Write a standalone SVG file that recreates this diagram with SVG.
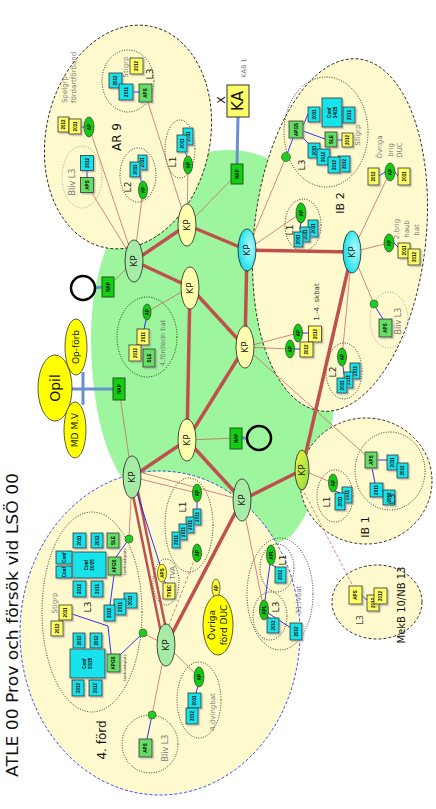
<svg xmlns="http://www.w3.org/2000/svg" width="436" height="809" viewBox="0 0 436 809">
<defs>
<style>
text{font-family:"DejaVu Sans","Liberation Sans",sans-serif}
.c{text-anchor:middle;dominant-baseline:central}
.s{text-anchor:start;dominant-baseline:central}
.bg{fill:#fffacd;stroke:#000;stroke-width:0.8;stroke-dasharray:3 2}
.bgb{fill:#fffacd;stroke:#2233ff;stroke-width:0.9;stroke-dasharray:3 2}
.dt{fill:none;stroke:#000;stroke-width:0.8;stroke-dasharray:1 1.5}
.dg{fill:none;stroke:#888;stroke-width:0.8;stroke-dasharray:1 1.5}
.b{stroke:#333;stroke-width:0.8;filter:url(#sh)}
.cy{fill:#19e3ec}
.gb{fill:#66dd66}
.yb{fill:#ffff66}
.bt{font-family:"Liberation Sans",sans-serif;font-size:4.5px;font-weight:bold;text-anchor:middle;dominant-baseline:central}
.ap{fill:#10cc10;stroke:#333;stroke-width:0.7}
.yap{fill:#ffff33;stroke:#333;stroke-width:0.7}
.kp{stroke:#222;stroke-width:0.8}
.kt{font-size:9px;fill:#111}
.th{stroke:#c0504d;stroke-width:3.5;fill:none}
.th2{stroke:#c0504d;stroke-width:2.5;fill:none}
.tn{stroke:#c86a6a;stroke-width:0.8;fill:none}
.td{stroke:#d06060;stroke-width:0.8;stroke-dasharray:3 2;fill:none}
.bl{stroke:#1a1aff;stroke-width:0.9;fill:none}
.lbb{stroke:#6a8fd0;stroke-width:3;fill:none}
.g7{font-size:7px;fill:#777}
.g8{font-size:8px;fill:#777}
.lb{font-size:9px;fill:#222}
.big{font-size:11px;fill:#111}
.nap{fill:#10d010;stroke:#225522;stroke-width:1}
.yel{fill:#ffff00;stroke:#333;stroke-width:0.8}
.ring{fill:none;stroke:#000;stroke-width:2.5}
.gc{fill:#22cc22;stroke:#336633;stroke-width:0.7}
</style>
<filter id="sh" x="-30%" y="-30%" width="170%" height="170%"><feDropShadow dx="1.5" dy="1.5" stdDeviation="0.4" flood-color="#999" flood-opacity="0.6"/></filter>
<radialGradient id="gcy" cx="0.65" cy="0.45" r="0.7"><stop offset="0" stop-color="#b8fbff"/><stop offset="1" stop-color="#00dce8"/></radialGradient>
<linearGradient id="gyg" x1="0" y1="0" x2="1" y2="1"><stop offset="0" stop-color="#f4f440"/><stop offset="1" stop-color="#88dd44"/></linearGradient>
</defs>

<g id="background">
<path id="green-area" d="M230,150 C300,150 345,230 340,330 C338,420 322,500 292,535 C262,560 200,535 150,505 C110,482 92,420 91,340 C90,230 150,150 230,150 Z" fill="#9df59d"/>
<ellipse class="bg" cx="128" cy="137" rx="82" ry="113" transform="rotate(12 128 137)"/>
<ellipse class="bg" cx="340" cy="235" rx="86" ry="177" transform="rotate(6 340 235)"/>
<ellipse class="bg" cx="366" cy="481" rx="66" ry="63"/>
<ellipse class="bg" cx="377" cy="602" rx="45" ry="37"/>
<ellipse class="bgb" cx="160" cy="633" rx="140" ry="162"/>
</g>

<g id="subgroups">
<ellipse class="dt" cx="128" cy="81" rx="26" ry="31"/>
<ellipse class="dg" cx="82" cy="177" rx="20" ry="31"/>
<ellipse class="dt" cx="138" cy="175" rx="18" ry="27"/>
<ellipse class="dt" cx="180" cy="149" rx="15" ry="29"/>
<ellipse class="dt" cx="326" cy="132" rx="42" ry="55"/>
<ellipse class="dt" cx="303" cy="225" rx="18" ry="26"/>
<ellipse class="dg" cx="389" cy="320" rx="19" ry="28"/>
<ellipse class="dt" cx="344" cy="371" rx="18" ry="28"/>
<ellipse class="dt" cx="147" cy="337" rx="30" ry="40"/>
<ellipse class="dt" cx="335" cy="496" rx="18" ry="26"/>
<ellipse class="dt" cx="390" cy="471" rx="35" ry="39"/>
<ellipse class="dt" cx="189" cy="525" rx="24" ry="47"/>
<ellipse class="dt" cx="166" cy="582" rx="13" ry="23"/>
<ellipse class="dt" cx="92" cy="612" rx="50" ry="100"/>
<ellipse class="dt" cx="150" cy="744" rx="28" ry="29"/>
<ellipse class="dt" cx="199" cy="700" rx="22" ry="38"/>
<ellipse class="dt" cx="280" cy="594" rx="33" ry="56"/>
<ellipse class="dt" cx="277" cy="568" rx="17" ry="24"/>
<ellipse class="dt" cx="270" cy="616" rx="17" ry="24"/>
</g>

<g id="connectors">
<line class="th" x1="134" y1="261" x2="187" y2="225"/>
<line class="th" x1="134" y1="261" x2="190" y2="287"/>
<line class="th" x1="187" y1="225" x2="247" y2="250"/>
<line class="th" x1="247" y1="250" x2="352" y2="252"/>
<line class="th" x1="247" y1="250" x2="245" y2="347"/>
<line class="th" x1="190" y1="287" x2="245" y2="347"/>
<line class="th" x1="190" y1="287" x2="187" y2="440"/>
<line class="th" x1="245" y1="347" x2="187" y2="440"/>
<line class="th" x1="352" y1="252" x2="302" y2="470"/>
<line class="th" x1="187" y1="440" x2="132" y2="477"/>
<line class="th" x1="187" y1="440" x2="242" y2="500"/>
<line class="th" x1="242" y1="500" x2="302" y2="470"/>
<line class="th" x1="242" y1="500" x2="166" y2="645"/>
<line class="th2" x1="129.5" y1="478" x2="163.5" y2="645"/>
<line class="th2" x1="135" y1="477" x2="169" y2="644"/>

<line class="tn" x1="134" y1="261" x2="108" y2="287"/>
<line class="tn" x1="134" y1="261" x2="89" y2="127"/>
<line class="tn" x1="134" y1="261" x2="87" y2="185"/>
<line class="tn" x1="134" y1="261" x2="143" y2="190"/>
<line class="tn" x1="187" y1="225" x2="145" y2="93"/>
<line class="tn" x1="187" y1="225" x2="188" y2="165"/>
<line class="tn" x1="187" y1="225" x2="237" y2="174"/>
<line class="tn" x1="247" y1="250" x2="286" y2="157"/>
<line class="tn" x1="247" y1="250" x2="301" y2="213"/>
<line class="tn" x1="352" y1="252" x2="390" y2="172"/>
<line class="tn" x1="352" y1="252" x2="389" y2="243"/>
<line class="tn" x1="352" y1="252" x2="374" y2="304"/>
<line class="tn" x1="352" y1="252" x2="342" y2="357"/>
<line class="tn" x1="245" y1="347" x2="298" y2="333"/>
<line class="tn" x1="245" y1="347" x2="290" y2="349"/>
<line class="tn" x1="245" y1="347" x2="371" y2="460"/>
<line class="tn" x1="190" y1="287" x2="147" y2="312"/>
<line class="tn" x1="187" y1="440" x2="236" y2="438"/>
<line class="tn" x1="119" y1="389" x2="132" y2="477"/>
<line class="tn" x1="302" y1="470" x2="333" y2="483"/>
<line class="td" x1="302" y1="488" x2="355" y2="590"/>
<line class="tn" x1="132" y1="477" x2="197" y2="493"/>
<line class="tn" x1="132" y1="470" x2="242" y2="500"/>
<line class="tn" x1="132" y1="477" x2="129" y2="539"/>
<line class="tn" x1="242" y1="500" x2="264" y2="610"/>
<line class="tn" x1="166" y1="645" x2="143" y2="633"/>
<line class="tn" x1="166" y1="645" x2="199" y2="677"/>
<line class="tn" x1="166" y1="645" x2="152" y2="715"/>
<line class="td" x1="197" y1="553" x2="167" y2="630"/>

<line class="lbb" x1="238" y1="117" x2="237" y2="164"/>
<path class="lbb" d="M72,389 H113 M83,372 V405" stroke-width="2.5"/>
<line class="lbb" x1="242" y1="438" x2="248" y2="438" stroke-width="2.5"/>
<line class="lbb" x1="102" y1="287" x2="95" y2="288" stroke-width="2.5"/>

<g class="bl">
<path d="M81,127 H85 M87,170 V178 M133,92 H139 M140,172 L141,181 M185,152 L187,156"/>
<path d="M286,157 L293,138 M303,126 L308,114 M303,131 L325,139 M301,136 L310,145 M337,140 H342"/>
<path d="M379,176 L385,172 M395,172 L398,176 M301,222 L300,229 M394,243 L398,247 M376,308 L383,319"/>
<path d="M302,333 H308 M294,349 H300 M343,366 L344,374 M146,320 L144,329"/>
<path d="M335,491 L340,493 M377,460 H387 M372,468 L375,483 M362,596 L367,600"/>
<path d="M197,502 V509 M132,477 L160,565 M164,581 L166,583 M129,539 L116,557 M114,575 L110,605 M72,614 L108,626 L111,654 M143,633 L119,656"/>
<path d="M198,686 L196,693 M152,715 L147,739 M272,565 L276,567 M270,564 L265,600 M266,612 L269,619 M268,613 L291,628 M216,597 L217,596"/>
</g>
</g>

<g id="ar9">
<g id="ar9-spelgrp">
<rect class="b yb" x="58" y="117" width="11" height="15"/><text class="bt" transform="translate(63.5 124.5) rotate(-90)">2012</text>
<rect class="b yb" x="69" y="119" width="12" height="15"/><text class="bt" transform="translate(75 126.5) rotate(-90)">2011</text>
<ellipse class="ap" cx="89" cy="127" rx="5" ry="10"/><text class="bt" transform="translate(89 127) rotate(-90)">AP</text>
</g>
<g id="ar9-bliv">
<rect class="b cy" x="80.5" y="155.5" width="13" height="15"/><text class="bt" transform="translate(87 163) rotate(-90)">2012</text>
<rect class="b gb" x="80.5" y="177.5" width="13" height="15"/><text class="bt" transform="translate(87 185) rotate(-90)">APS</text>
</g>
<g id="ar9-l3">
<rect class="b cy" x="109" y="73" width="13" height="15"/><text class="bt" transform="translate(115.5 80.5) rotate(-90)">2012</text>
<rect class="b cy" x="119" y="84" width="14" height="16"/><text class="bt" transform="translate(126 92) rotate(-90)">2011</text>
<rect class="b gb" x="139" y="84" width="13" height="18"/><text class="bt" transform="translate(145.5 93) rotate(-90)">APS</text>
<rect class="b yb" x="130" y="58" width="13" height="16"/><text class="bt" transform="translate(136.5 66) rotate(-90)">2012</text>
</g>
<g id="ar9-l2">
<rect class="b cy" x="138" y="155" width="9" height="15"/><text class="bt" transform="translate(142.5 162.5) rotate(-90)">2011</text>
<rect class="b cy" x="130" y="162" width="10" height="15"/><text class="bt" transform="translate(135 169.5) rotate(-90)">2011</text>
<ellipse class="ap" cx="143" cy="190" rx="4.5" ry="9"/><text class="bt" transform="translate(143 190) rotate(-90)">AP</text>
</g>
<g id="ar9-l1">
<rect class="b cy" x="183" y="128" width="10" height="17"/><text class="bt" transform="translate(188 136.5) rotate(-90)">2011</text>
<rect class="b cy" x="177" y="135" width="10" height="17"/><text class="bt" transform="translate(182 143.5) rotate(-90)">2011</text>
<ellipse class="ap" cx="188" cy="165" rx="4.5" ry="9"/><text class="bt" transform="translate(188 165) rotate(-90)">AP</text>
</g>
<text class="s g7" transform="translate(65 103) rotate(-90)">Spelgrp</text>
<text class="s g7" transform="translate(74 103) rotate(-90)">fördartförband</text>
<text class="c g8" transform="translate(72 182) rotate(-90)">Bliv L3</text>
<text class="c g7" transform="translate(126 67) rotate(-90)">Stigrp</text>
<text class="c lb" transform="translate(150 74) rotate(-90)">L3</text>
<text class="c lb" transform="translate(128 187) rotate(-90)">L2</text>
<text class="c lb" transform="translate(173 162) rotate(-90)">L1</text>
<text class="c" font-size="12" fill="#111" transform="translate(117 137) rotate(-90)">AR 9</text>
</g>

<g id="ka">
<rect x="227" y="85" width="22" height="32" fill="#ffff66" stroke="#333" stroke-width="1"/>
<text class="c" font-size="15" fill="#111" transform="translate(238 101) rotate(-90)">KA</text>
<text class="c" font-size="11" fill="#111" transform="translate(221 100) rotate(-90)">X</text>
<text class="c" font-size="6.5" fill="#777" transform="translate(244 68) rotate(-90)">KAB 1</text>
</g>

<g id="ib2">
<g id="ib2-l3">
<circle class="gc" cx="286" cy="157" r="4.5"/>
<rect class="b gb" x="289" y="121" width="14" height="17"/><text class="bt" transform="translate(296 129.5) rotate(-90)">APGS</text>
<rect class="b cy" x="308" y="107" width="12" height="15"/><text class="bt" transform="translate(314 114.5) rotate(-90)">2011</text>
<rect class="b cy" x="322" y="98" width="20" height="29"/><text class="bt" transform="translate(329 112.5) rotate(-90)">Conf</text><text class="bt" transform="translate(335 112.5) rotate(-90)">14/25</text>
<rect class="b cy" x="343" y="107" width="12" height="16"/><text class="bt" transform="translate(349 115) rotate(-90)">2012</text>
<rect class="b gb" x="325" y="132" width="12" height="15"/><text class="bt" transform="translate(331 139.5) rotate(-90)">SLE</text>
<rect class="b yb" x="342" y="133" width="11" height="14"/><text class="bt" transform="translate(347.5 140) rotate(-90)">2012</text>
<rect class="b cy" x="308" y="143" width="12" height="15"/><text class="bt" transform="translate(314 150.5) rotate(-90)">2011</text>
<rect class="b cy" x="317" y="149" width="13" height="16"/><text class="bt" transform="translate(323.5 157) rotate(-90)">2012</text>
<rect class="b cy" x="338" y="156" width="12" height="16"/><text class="bt" transform="translate(344 164) rotate(-90)">2012</text>
<rect class="b cy" x="328" y="157" width="12" height="16"/><text class="bt" transform="translate(334 165) rotate(-90)">2012</text>
</g>
<g id="ib2-ovriga">
<rect class="b yb" x="368" y="168" width="11" height="17"/><text class="bt" transform="translate(373.5 176.5) rotate(-90)">2012</text>
<ellipse class="ap" cx="390" cy="172" rx="5" ry="9"/><text class="bt" transform="translate(390 172) rotate(-90)">AP</text>
<rect class="b yb" x="398" y="168" width="12" height="17"/><text class="bt" transform="translate(404 176.5) rotate(-90)">2011</text>
</g>
<g id="ib2-l1">
<rect class="b cy" x="308" y="220" width="10" height="17"/><text class="bt" transform="translate(313 228.5) rotate(-90)">2011</text>
<rect class="b cy" x="300" y="227" width="10" height="15"/><text class="bt" transform="translate(305 234.5) rotate(-90)">2011</text>
<rect class="b cy" x="294" y="232" width="9" height="15"/><text class="bt" transform="translate(298.5 239.5) rotate(-90)">2011</text>
<ellipse class="ap" cx="301" cy="213" rx="5" ry="10"/><text class="bt" transform="translate(301 213) rotate(-90)">AP</text>
</g>
<g id="ib2-2brig">
<ellipse class="ap" cx="389" cy="243" rx="5" ry="9"/><text class="bt" transform="translate(389 243) rotate(-90)">AP</text>
<rect class="b yb" x="398" y="243" width="12" height="15"/><text class="bt" transform="translate(404 250.5) rotate(-90)">2011</text>
<rect class="b yb" x="408" y="249" width="12" height="16"/><text class="bt" transform="translate(414 257) rotate(-90)">2012</text>
</g>
<g id="ib2-bliv">
<circle class="gc" cx="374" cy="304" r="4"/>
<rect class="b gb" x="379" y="319" width="13" height="18"/><text class="bt" transform="translate(385.5 328) rotate(-90)">APS</text>
</g>
<g id="ib2-skbat">
<ellipse class="ap" cx="298" cy="333" rx="4.5" ry="9"/><text class="bt" transform="translate(298 333) rotate(-90)">AP</text>
<ellipse class="ap" cx="290" cy="349" rx="4.5" ry="9"/><text class="bt" transform="translate(290 349) rotate(-90)">AP</text>
<rect class="b yb" x="308.5" y="326" width="13" height="16"/><text class="bt" transform="translate(315 334) rotate(-90)">2012</text>
<rect class="b yb" x="300" y="342" width="13" height="15"/><text class="bt" transform="translate(306.5 349.5) rotate(-90)">2012</text>
</g>
<g id="ib2-l2">
<ellipse class="ap" cx="342" cy="357" rx="4.5" ry="9"/><text class="bt" transform="translate(342 357) rotate(-90)">AP</text>
<rect class="b cy" x="350" y="363" width="10" height="16"/><text class="bt" transform="translate(355 371) rotate(-90)">2011</text>
<rect class="b cy" x="344" y="372" width="9" height="16"/><text class="bt" transform="translate(348.5 380) rotate(-90)">2011</text>
<rect class="b cy" x="337" y="378" width="10" height="15"/><text class="bt" transform="translate(342 385.5) rotate(-90)">2011</text>
</g>
<text class="c lb" transform="translate(302 165) rotate(-90)">L3</text>
<text class="c g7" transform="translate(358 135) rotate(-90)">Stigrp</text>
<text class="c g7" transform="translate(380 147) rotate(-90)">Övriga</text>
<text class="c g7" transform="translate(391 150) rotate(-90)">brig</text>
<text class="c g7" transform="translate(400 150) rotate(-90)">DUC</text>
<text class="c big" transform="translate(340 203) rotate(-90)">IB 2</text>
<text class="c lb" transform="translate(290 230) rotate(-90)">L1</text>
<text class="c g7" transform="translate(397 229) rotate(-90)">2.brig</text>
<text class="c g7" transform="translate(407 229) rotate(-90)">haub</text>
<text class="c g7" transform="translate(417 230) rotate(-90)">bat</text>
<text class="c g8" transform="translate(398 321) rotate(-90)">Bliv L3</text>
<text class="c" font-size="7" fill="#333" transform="translate(317 302) rotate(-90)">1.-4. skbat</text>
<text class="c lb" transform="translate(333 372) rotate(-90)">L2</text>
</g>

<g id="fordledn">
<ellipse class="ap" cx="147" cy="312" rx="4" ry="8"/><text class="bt" transform="translate(147 312) rotate(-90)">AP</text>
<rect class="b yb" x="137" y="329" width="12" height="16"/><text class="bt" transform="translate(143 337) rotate(-90)">2011</text>
<rect class="b yb" x="129" y="345" width="12" height="16"/><text class="bt" transform="translate(135 353) rotate(-90)">2012</text>
<rect class="b gb" x="143" y="349" width="12" height="18"/><text class="bt" transform="translate(149 358) rotate(-90)">SLE</text>
<text class="c" font-size="6.5" fill="#777" transform="translate(163 343) rotate(-90)">4.fördledn bat</text>
</g>

<g id="ib1">
<g id="ib1-l1">
<ellipse class="ap" cx="333" cy="483" rx="4.5" ry="9"/><text class="bt" transform="translate(333 483) rotate(-90)">AP</text>
<rect class="b cy" x="342" y="487" width="10" height="16"/><text class="bt" transform="translate(347 495) rotate(-90)">2011</text>
<rect class="b cy" x="335" y="493" width="10" height="17"/><text class="bt" transform="translate(340 501.5) rotate(-90)">2011</text>
</g>
<g id="ib1-l3">
<rect class="b gb" x="365" y="452" width="12" height="16"/><text class="bt" transform="translate(371 460) rotate(-90)">APS</text>
<rect class="b cy" x="387" y="455" width="11" height="15"/><text class="bt" transform="translate(392.5 462.5) rotate(-90)">2011</text>
<rect class="b cy" x="397" y="463" width="11" height="15"/><text class="bt" transform="translate(402.5 470.5) rotate(-90)">2012</text>
<rect class="b cy" x="370" y="483" width="13" height="14"/><text class="bt" transform="translate(376.5 490) rotate(-90)">2011</text>
<rect class="b cy" x="383" y="490" width="12" height="15"/><text class="bt" transform="translate(389 497.5) rotate(-90)">2012</text>
</g>
<text class="c lb" transform="translate(327 502) rotate(-90)">L1</text>
<text class="c lb" transform="translate(392 499) rotate(-90)">L3</text>
<text class="c big" transform="translate(365 527) rotate(-90)">IB 1</text>
</g>

<g id="mekb">
<rect class="b yb" x="349" y="586" width="13" height="18"/><text class="bt" transform="translate(355.5 595) rotate(-90)">APS</text>
<rect class="b yb" x="367" y="595" width="12" height="16"/><text class="bt" transform="translate(373 603) rotate(-90)">2012</text>
<rect class="b yb" x="374" y="588" width="13" height="16"/><text class="bt" transform="translate(380.5 596) rotate(-90)">2012</text>
<text class="c" font-size="8" fill="#444" transform="translate(360 620) rotate(-90)">L3</text>
<text class="c" font-size="10" fill="#111" transform="translate(401 605) rotate(-90)">MekB 10/NB 13</text>
</g>

<g id="ford4">
<g id="f4-l1">
<ellipse class="ap" cx="197" cy="493" rx="4.5" ry="9"/><text class="bt" transform="translate(197 493) rotate(-90)">AP</text>
<rect class="b cy" x="193" y="509" width="8" height="16"/><text class="bt" transform="translate(197 517) rotate(-90)">2011</text>
<rect class="b cy" x="186" y="517" width="8" height="16"/><text class="bt" transform="translate(190 525) rotate(-90)">2011</text>
<rect class="b cy" x="179" y="524" width="8" height="16"/><text class="bt" transform="translate(183 532) rotate(-90)">2011</text>
<rect class="b cy" x="172" y="532" width="8" height="16"/><text class="bt" transform="translate(176 540) rotate(-90)">2011</text>
<ellipse class="ap" cx="197" cy="553" rx="4.5" ry="9"/><text class="bt" transform="translate(197 553) rotate(-90)">AP</text>
</g>
<g id="f4-tva">
<ellipse class="yap" cx="162" cy="573" rx="4.5" ry="9"/><text class="bt" transform="translate(162 573) rotate(-90)">APS</text>
<rect class="b yb" x="163" y="583" width="12" height="16"/><text class="bt" transform="translate(169 591) rotate(-90)">TVBC</text>
</g>
<g id="f4-l3">
<circle class="gc" cx="129" cy="539" r="4"/>
<rect class="b gb" x="107" y="533" width="12" height="15"/><text class="bt" transform="translate(113 540.5) rotate(-90)">SLE</text>
<rect class="b gb" x="108" y="557" width="13" height="18"/><text class="bt" transform="translate(114.5 566) rotate(-90)">APGS</text>
<rect class="b cy" x="72" y="552" width="34" height="26"/><text class="bt" transform="translate(86 565) rotate(-90)">Conf</text><text class="bt" transform="translate(92 565) rotate(-90)">20/25</text>
<rect class="b cy" x="73" y="533" width="13" height="15"/><text class="bt" transform="translate(79.5 540.5) rotate(-90)">2011</text>
<rect class="b cy" x="91" y="533" width="12" height="15"/><text class="bt" transform="translate(97 540.5) rotate(-90)">2012</text>
<rect class="b cy" x="56" y="551" width="16" height="13"/><text class="bt" font-size="3.5" transform="translate(64 557.5) rotate(-90)">Conf</text>
<rect class="b cy" x="56" y="566" width="16" height="12"/><text class="bt" font-size="3.5" transform="translate(64 572) rotate(-90)">Conf</text>
<rect class="b cy" x="73" y="581" width="13" height="16"/><text class="bt" transform="translate(79.5 589) rotate(-90)">2012</text>
<rect class="b cy" x="91" y="581" width="12" height="16"/><text class="bt" transform="translate(97 589) rotate(-90)">2011</text>
<rect class="b cy" x="124" y="593" width="13" height="15"/><text class="bt" transform="translate(130.5 600.5) rotate(-90)">2011</text>
<rect class="b cy" x="114" y="599" width="12" height="16"/><text class="bt" transform="translate(120 607) rotate(-90)">2011</text>
<rect class="b cy" x="104" y="605" width="11" height="16"/><text class="bt" transform="translate(109.5 613) rotate(-90)">2012</text>
<rect class="b yb" x="59" y="605" width="13" height="15"/><text class="bt" transform="translate(65.5 612.5) rotate(-90)">2011</text>
<rect class="b yb" x="51" y="621" width="12" height="15"/><text class="bt" transform="translate(57 628.5) rotate(-90)">2012</text>
<circle class="gc" cx="143" cy="633" r="4"/>
<rect class="b gb" x="107" y="654" width="13" height="18"/><text class="bt" transform="translate(113.5 663) rotate(-90)">APGS</text>
<rect class="b cy" x="70" y="649" width="35" height="29"/><text class="bt" transform="translate(84.5 663.5) rotate(-90)">Conf</text><text class="bt" transform="translate(90.5 663.5) rotate(-90)">20/25</text>
<rect class="b cy" x="73" y="633" width="12" height="15"/><text class="bt" transform="translate(79 640.5) rotate(-90)">2012</text>
<rect class="b cy" x="90" y="633" width="12" height="15"/><text class="bt" transform="translate(96 640.5) rotate(-90)">2012</text>
<rect class="b cy" x="72" y="680" width="12" height="16"/><text class="bt" transform="translate(78 688) rotate(-90)">2012</text>
<rect class="b cy" x="89" y="680" width="13" height="16"/><text class="bt" transform="translate(95.5 688) rotate(-90)">2012</text>
<text class="c" font-size="3.5" fill="#333" transform="translate(125 562) rotate(-90)">Sambandsplats</text>
<text class="c" font-size="3.5" fill="#333" transform="translate(125 668) rotate(-90)">Sambandsplats</text>
</g>
<g id="f4-dvingbat">
<ellipse class="ap" cx="199" cy="677" rx="5" ry="10"/><text class="bt" transform="translate(199 677) rotate(-90)">AP</text>
<rect class="b cy" x="188" y="693" width="13" height="15"/><text class="bt" transform="translate(194.5 700.5) rotate(-90)">2011</text>
<rect class="b cy" x="186" y="708" width="12" height="16"/><text class="bt" transform="translate(192 716) rotate(-90)">2012</text>
</g>
<g id="f4-bliv">
<circle class="gc" cx="152" cy="715" r="4"/>
<rect class="b gb" x="139" y="739" width="13" height="18"/><text class="bt" transform="translate(145.5 748) rotate(-90)">APS</text>
</g>
<g id="f4-31lvbat">
<ellipse class="ap" cx="271" cy="555" rx="4.5" ry="10"/><text class="bt" transform="translate(271 555) rotate(-90)">APL</text>
<rect class="b cy" x="275" y="567" width="11" height="16"/><text class="bt" transform="translate(280.5 575) rotate(-90)">2012</text>
<ellipse class="ap" cx="264" cy="610" rx="4.5" ry="10"/><text class="bt" transform="translate(264 610) rotate(-90)">APL</text>
<rect class="b cy" x="267" y="618" width="12" height="15"/><text class="bt" transform="translate(273 625.5) rotate(-90)">2012</text>
<rect class="b cy" x="290" y="623" width="12" height="17"/><text class="bt" transform="translate(296 631.5) rotate(-90)">2012</text>
</g>
<g id="f4-ovriga">
<ellipse class="yap" cx="216" cy="588" rx="4" ry="9"/><text class="bt" transform="translate(216 588) rotate(-90)">AP</text>
<ellipse class="yel" cx="218" cy="625" rx="15" ry="30"/>
<text class="c lb" transform="translate(212 625) rotate(-90)">Övriga</text>
<text class="c lb" transform="translate(224 625) rotate(-90)">förd DUC</text>
</g>
<text class="c lb" transform="translate(183 507) rotate(-90)">L1</text>
<text class="c g7" transform="translate(173 573) rotate(-90)">TVA</text>
<text class="c g7" transform="translate(55 603) rotate(-90)">Stigrp</text>
<text class="c lb" transform="translate(88 607) rotate(-90)">L3</text>
<text class="c" font-size="12" fill="#111" transform="translate(102 740) rotate(-90)">4. förd</text>
<text class="c g8" transform="translate(165 748) rotate(-90)">Bliv L3</text>
<text class="c g7" transform="translate(213 712) rotate(-90)">4.dvingbat</text>
<text class="c g7" transform="translate(299 600) rotate(-90)">31.lvbat</text>
<text class="c lb" transform="translate(283 560) rotate(-90)">L1</text>
<text class="c lb" transform="translate(276 607) rotate(-90)">L3</text>
</g>

<g id="external">
<g id="opforb"><ellipse class="yel" cx="76" cy="347" rx="11" ry="28"/><text class="c lb" transform="translate(76 347) rotate(-90)">Op-förb</text></g>
<g id="opil"><ellipse class="yel" cx="55" cy="388" rx="17" ry="33"/><text class="c" font-size="14" fill="#111" transform="translate(55 388) rotate(-90)">Opil</text></g>
<g id="mdmv"><ellipse class="yel" cx="75" cy="430" rx="11" ry="28"/><text class="c lb" transform="translate(75 430) rotate(-90)">MD M.V</text></g>
<circle id="ring1" class="ring" cx="83" cy="288" r="12"/>
<circle id="ring2" class="ring" cx="259" cy="438" r="12"/>
</g>

<g id="naps">
<g id="nap-ka"><rect class="nap" x="231" y="164" width="12" height="20"/><text class="bt" font-size="5.5" transform="translate(237 174) rotate(-90)">NAP</text></g>
<g id="nap1"><rect class="nap" x="102" y="277" width="12" height="20"/><text class="bt" font-size="5.5" transform="translate(108 287) rotate(-90)">NAP</text></g>
<g id="nap2"><rect class="nap" x="113" y="378" width="12" height="22"/><text class="bt" font-size="5.5" transform="translate(119 389) rotate(-90)">NAP</text></g>
<g id="nap3"><rect class="nap" x="230" y="428" width="12" height="21"/><text class="bt" font-size="5.5" transform="translate(236 438.5) rotate(-90)">NAP</text></g>
</g>

<g id="kps">
<g id="kp-a"><ellipse class="kp" cx="134" cy="261" rx="9" ry="21" fill="#a6eba6"/><text class="c kt" transform="translate(134 261) rotate(-90)">KP</text></g>
<g id="kp-b"><ellipse class="kp" cx="187" cy="225" rx="9" ry="21" fill="#ffffae"/><text class="c kt" transform="translate(187 225) rotate(-90)">KP</text></g>
<g id="kp-c"><ellipse class="kp" cx="247" cy="250" rx="9" ry="21" fill="url(#gcy)"/><text class="c kt" transform="translate(247 250) rotate(-90)">KP</text></g>
<g id="kp-d"><ellipse class="kp" cx="190" cy="288" rx="9" ry="21" fill="#ffffae"/><text class="c kt" transform="translate(190 288) rotate(-90)">KP</text></g>
<g id="kp-e"><ellipse class="kp" cx="245" cy="347" rx="9" ry="21" fill="#ffffae"/><text class="c kt" transform="translate(245 347) rotate(-90)">KP</text></g>
<g id="kp-f"><ellipse class="kp" cx="352" cy="252" rx="9" ry="21" fill="url(#gcy)"/><text class="c kt" transform="translate(352 252) rotate(-90)">KP</text></g>
<g id="kp-g"><ellipse class="kp" cx="187" cy="440" rx="9" ry="21" fill="#ffffae"/><text class="c kt" transform="translate(187 440) rotate(-90)">KP</text></g>
<g id="kp-h"><ellipse class="kp" cx="132" cy="477" rx="9" ry="21" fill="#a6eba6"/><text class="c kt" transform="translate(132 477) rotate(-90)">KP</text></g>
<g id="kp-i"><ellipse class="kp" cx="242" cy="500" rx="9" ry="21" fill="#a6eba6"/><text class="c kt" transform="translate(242 500) rotate(-90)">KP</text></g>
<g id="kp-j"><ellipse class="kp" cx="302" cy="470" rx="7" ry="20" fill="url(#gyg)"/><text class="c kt" transform="translate(302 470) rotate(-90)">KP</text></g>
<g id="kp-k"><ellipse class="kp" cx="166" cy="645" rx="9" ry="21" fill="#a6eba6"/><text class="c kt" transform="translate(166 645) rotate(-90)">KP</text></g>
</g>

<text id="title" class="s" font-size="16" fill="#111" textLength="304" lengthAdjust="spacingAndGlyphs" transform="translate(12 777) rotate(-90)">ATLE 00  Prov och försök vid LSÖ 00</text>
</svg>
